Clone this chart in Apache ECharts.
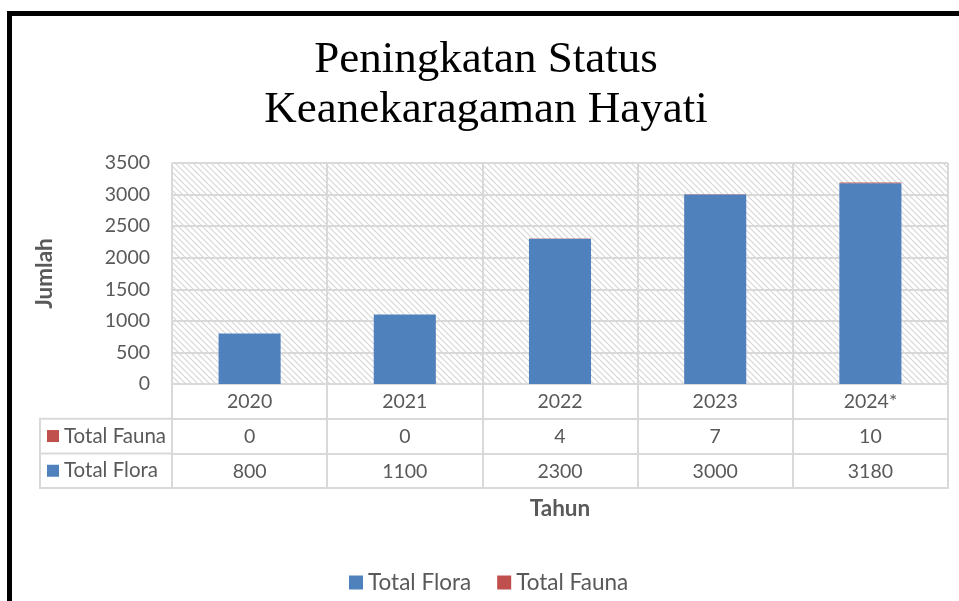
<!DOCTYPE html>
<html>
<head>
<meta charset="utf-8">
<script src="https://cdn.jsdelivr.net/npm/echarts@6/dist/echarts.min.js"></script>
<style>html,body{margin:0;padding:0;background:#fff}#c{width:959px;height:601px}</style>
</head>
<body>
<div id="c"></div>
<script>
const titleLines = ['Peningkatan Status', 'Keanekaragaman Hayati'];
const years = ['2020', '2021', '2022', '2023', '2024*'];
const floraName = 'Total Flora';
const faunaName = 'Total Fauna';
const flora = [800, 1100, 2300, 3000, 3180];
const fauna = [0, 0, 4, 7, 10];
const yTicks = [0, 500, 1000, 1500, 2000, 2500, 3000, 3500];

const FLORA_COLOR = '#4f81bd', FAUNA_COLOR = '#c0504d';
const GRIDC = '#d9d9d9', TXT = '#595959';
const FONT = 'Lato, "Open Sans", sans-serif';
const FS = 19.5;
const NAME_FS = 22.5;

const G = {left: 172, right: 11, top: 163, bottom: 217};
const ROW = 34.7;

// hatch pattern
const pc = document.createElement('canvas');
pc.width = 6; pc.height = 6;
const px = pc.getContext('2d');
px.fillStyle = '#ffffff'; px.fillRect(0, 0, 6, 6);
px.strokeStyle = '#d6d6d6'; px.lineWidth = 1.2;
px.beginPath();
px.moveTo(-1, -1); px.lineTo(7, 7);
px.moveTo(-7, -1); px.lineTo(1, 7);
px.moveTo(5, -1); px.lineTo(13, 7);
px.stroke();

const chart = echarts.init(document.getElementById('c'), null, {renderer: 'canvas'});

function tableAxis(labels, idx, showLabel) {
  return {
    type: 'category', data: labels, gridIndex: 0, position: 'bottom',
    offset: ROW * idx,
    axisLine: {show: true, lineStyle: {color: GRIDC, width: 2}},
    axisTick: {show: idx < 3, length: ROW, lineStyle: {color: GRIDC, width: 2}},
    axisLabel: {show: showLabel, margin: 8, color: TXT, fontSize: FS, fontFamily: FONT},
    splitLine: {show: false}
  };
}

const x0 = tableAxis(years, 0, true);
x0.splitLine = {show: true, lineStyle: {color: GRIDC, width: 2}};
x0.name = 'Tahun';
x0.nameLocation = 'middle';
x0.nameGap = 113;
x0.nameTextStyle = {color: TXT, fontSize: NAME_FS, fontWeight: 'bold', fontFamily: FONT};

const option = {
  animation: false,
  title: {
    text: titleLines.join('\n'),
    left: 481, top: 30, textAlign: 'center',
    textStyle: {fontFamily: '"Liberation Serif", "DejaVu Serif", serif', fontSize: 45, fontWeight: 'normal', color: '#000', lineHeight: 50}
  },
  legend: {
    data: [floraName, faunaName],
    left: 344, top: 566,
    itemWidth: 14, itemHeight: 14, itemGap: 26,
    icon: 'rect',
    textStyle: {color: TXT, fontSize: 22.5, fontFamily: FONT}
  },
  grid: {
    left: G.left, right: G.right, top: G.top, bottom: G.bottom,
    show: true, borderWidth: 0,
    backgroundColor: {image: pc, repeat: 'repeat'}
  },
  xAxis: [
    x0,
    tableAxis(fauna.map(String), 1, true),
    tableAxis(flora.map(String), 2, true),
    tableAxis(years, 3, false)
  ],
  yAxis: {
    type: 'value', min: 0, max: 3500, interval: 500,
    axisLine: {show: false}, axisTick: {show: false},
    axisLabel: {color: TXT, fontSize: FS, fontFamily: FONT, margin: 22,
      formatter: v => yTicks.indexOf(v) >= 0 ? String(v) : ''},
    splitLine: {lineStyle: {color: GRIDC, width: 2}},
    name: 'Jumlah', nameLocation: 'middle', nameRotate: 90, nameGap: 116,
    nameTextStyle: {color: TXT, fontSize: NAME_FS, fontWeight: 'bold', fontFamily: FONT}
  },
  series: [
    {name: floraName, type: 'bar', stack: 't', data: flora, barWidth: '40%',
     itemStyle: {color: FLORA_COLOR}},
    {name: faunaName, type: 'bar', stack: 't', data: fauna, barWidth: '40%',
     itemStyle: {color: FAUNA_COLOR}}
  ]
};
chart.setOption(option);

// table legend column & frame
const ch = 601, bottomY = ch - G.bottom;
const leftX = 40;
const rowsInfo = [[faunaName, FAUNA_COLOR], [floraName, FLORA_COLOR]];
const graphics = [
  {type: 'line', shape: {x1: 7, y1: 13.5, x2: 959, y2: 13.5}, style: {stroke: '#000', lineWidth: 5}},
  {type: 'line', shape: {x1: 9.5, y1: 11, x2: 9.5, y2: 601}, style: {stroke: '#000', lineWidth: 5}},
  {type: 'rect', shape: {x: leftX, y: bottomY + ROW, width: G.left - leftX, height: ROW * 2},
   style: {fill: 'none', stroke: GRIDC, lineWidth: 2}},
  {type: 'line', shape: {x1: leftX, y1: bottomY + ROW * 2, x2: G.left, y2: bottomY + ROW * 2},
   style: {stroke: GRIDC, lineWidth: 2}}
];
rowsInfo.forEach((r, i) => {
  const cy = bottomY + ROW * (i + 1) + ROW / 2;
  graphics.push({type: 'rect', shape: {x: 47, y: cy - 6, width: 12, height: 12}, style: {fill: r[1]}});
  graphics.push({type: 'text', x: 64, y: cy, style: {text: r[0], fill: TXT, fontSize: 20.5, fontFamily: FONT, verticalAlign: 'middle', align: 'left'}});
});
chart.setOption({graphic: graphics});
</script>
</body>
</html>
